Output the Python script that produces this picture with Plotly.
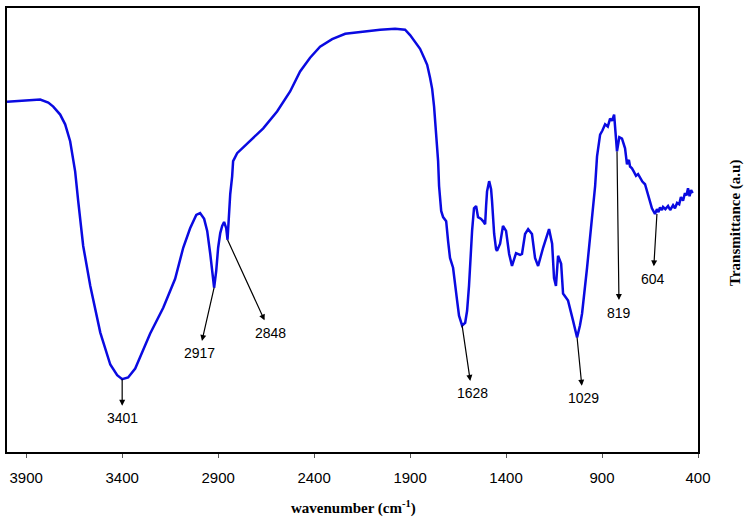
import plotly.graph_objects as go

# FTIR spectrum
wavenumber = [4000, 3931, 3879, 3827, 3785, 3759, 3723, 3697, 3671, 3645, 3629, 3603, 3566, 3514,
              3462, 3426, 3400, 3369, 3332, 3290, 3254, 3186, 3124, 3082, 3046, 3014, 2994, 2973,
              2957, 2941, 2931, 2921, 2910, 2900, 2889, 2879, 2869, 2858, 2851, 2843, 2837, 2827,
              2822, 2801, 2775, 2733, 2665, 2593, 2525, 2473, 2421, 2369, 2306, 2238, 2160, 2056,
              1978, 1926, 1900, 1874, 1848, 1827, 1811, 1796, 1785, 1775, 1770, 1759, 1754, 1749,
              1738, 1728, 1712, 1702, 1692, 1676, 1666, 1655, 1645, 1629, 1613, 1603, 1593, 1587,
              1577, 1567, 1556, 1546, 1530, 1520, 1509, 1504, 1499, 1488, 1478, 1473, 1462, 1452,
              1447, 1431, 1416, 1400, 1384, 1369, 1348, 1327, 1317, 1301, 1285, 1265, 1249, 1233,
              1207, 1176, 1160, 1150, 1140, 1129, 1113, 1103, 1077, 1051, 1030, 1015, 1004, 978,
              952, 936, 926, 910, 898, 884, 870, 858, 848, 837, 822, 810, 796, 780, 770, 760, 754,
              744, 735, 723, 712, 702, 690, 676, 660, 640, 624, 614, 606, 598, 588, 582, 570, 556,
              545, 530, 520, 509, 498, 489, 478, 468, 460, 452, 444, 436, 428, 421, 410, 400]
transmittance = [78.9, 79.1, 79.4, 79.4, 78.7, 77.8, 76.0, 73.8, 70.0, 63.2, 56.5, 46.4, 37.4, 26.9,
                 19.7, 17.3, 16.4, 16.8, 18.8, 22.9, 26.7, 32.5, 39.0, 46.0, 50.4, 53.4, 53.8, 52.5,
                 49.8, 44.6, 40.4, 37.0, 40.8, 46.0, 49.3, 50.9, 51.8, 50.4, 47.8, 53.6, 58.1, 62.1,
                 65.5, 67.3, 68.4, 70.0, 72.9, 76.7, 81.2, 85.7, 88.8, 91.3, 93.0, 94.2, 94.6, 95.1,
                 95.3, 95.1, 93.9, 92.4, 90.8, 88.8, 87.2, 84.3, 81.8, 77.8, 75.1, 70.0, 65.5, 59.9,
                 54.3, 52.9, 52.0, 47.5, 43.7, 41.5, 37.4, 34.1, 30.7, 28.5, 29.1, 31.8, 37.4, 43.0,
                 49.8, 54.9, 55.4, 52.9, 52.5, 52.0, 51.3, 55.4, 58.7, 61.0, 59.2, 56.5, 49.1, 45.7,
                 45.3, 46.9, 50.9, 49.8, 44.6, 41.9, 44.8, 44.4, 44.6, 49.1, 50.2, 49.1, 43.7, 41.9,
                 46.0, 50.2, 46.9, 39.2, 37.4, 44.2, 42.4, 35.7, 34.1, 29.6, 25.8, 28.5, 31.2, 41.5,
                 52.7, 59.9, 66.6, 71.5, 72.4, 73.8, 73.3, 75.1, 74.6, 76.0, 67.7, 70.9, 70.6, 68.4,
                 64.8, 65.8, 64.3, 63.9, 63.2, 62.2, 62.6, 61.7, 60.9, 60.3, 57.6, 54.9, 53.6, 54.7,
                 54.0, 55.1, 54.5, 55.2, 54.7, 55.4, 54.5, 55.6, 54.9, 56.1, 55.8, 57.4, 56.6, 58.3,
                 57.8, 59.4, 57.6, 59.0, 58.3]

# peak labels: text, point on the curve, label position
peak_text = ["3401", "2917", "2848", "1628", "1029", "819", "604"]
peak_x = [3400, 2921, 2851, 1629, 1030, 822, 614]
peak_y = [16.4, 37.0, 47.8, 28.5, 25.8, 67.7, 53.6]
label_x = [3400, 2999, 2629, 1577, 999, 811, 634]
label_y = [7.6, 22.2, 26.9, 13.2, 12.1, 31.4, 39.0]

tick_vals = [3900, 3400, 2900, 2400, 1900, 1400, 900, 400]

fig = go.Figure()
fig.add_trace(go.Scatter(
    x=wavenumber, y=transmittance, mode="lines",
    line=dict(color="rgb(10,10,225)", width=2.5),
    showlegend=False, hoverinfo="skip"
))

# arrow runs from the curve to the label, head at the label end
for t, px, py, lx, ly in zip(peak_text, peak_x, peak_y, label_x, label_y):
    fig.add_annotation(
        x=px, y=py, ax=lx, ay=ly, xref="x", yref="y", axref="x", ayref="y",
        text=t, showarrow=True, arrowside="start",
        startarrowhead=2, startarrowsize=1, arrowwidth=1.2, arrowcolor="black",
        startstandoff=3,
        font=dict(family="Liberation Sans, Arial", size=14, color="black")
    )

# axis titles
fig.add_annotation(
    x=0.502, y=-0.1256, xref="paper", yref="paper", showarrow=False,
    xanchor="center", yanchor="middle",
    text="<b>wavenumber (cm<sup>-1</sup>)</b>",
    font=dict(family="Liberation Serif, Times New Roman", size=15, color="black")
)
fig.add_annotation(
    x=1.0535, y=0.5157, xref="paper", yref="paper", showarrow=False, textangle=-90,
    xanchor="center", yanchor="middle",
    text="<b>Transmittance (a.u)</b>",
    font=dict(family="Liberation Serif, Times New Roman", size=15, color="black")
)

fig.update_xaxes(
    range=[4000, 400], tickvals=tick_vals, ticktext=[str(v) for v in tick_vals],
    ticks="outside", ticklen=4, tickwidth=1, tickcolor="#555",
    ticklabelstandoff=7,
    showline=True, linecolor="black", linewidth=2, mirror=True,
    showgrid=False, zeroline=False,
    tickfont=dict(family="Liberation Sans, Arial", size=15, color="black")
)
fig.update_yaxes(
    range=[0, 100], showticklabels=False, ticks="",
    showline=True, linecolor="black", linewidth=2, mirror=True,
    showgrid=False, zeroline=False
)

fig.update_layout(
    width=746, height=522,
    paper_bgcolor="white", plot_bgcolor="white",
    margin={"l": 7, "r": 48, "t": 6, "b": 70}
)

# drop the default page margin so the figure sits at the window's corner
fig.write_html("out.html", config={"displayModeBar": False},
               post_script="document.body.style.margin='0';")
